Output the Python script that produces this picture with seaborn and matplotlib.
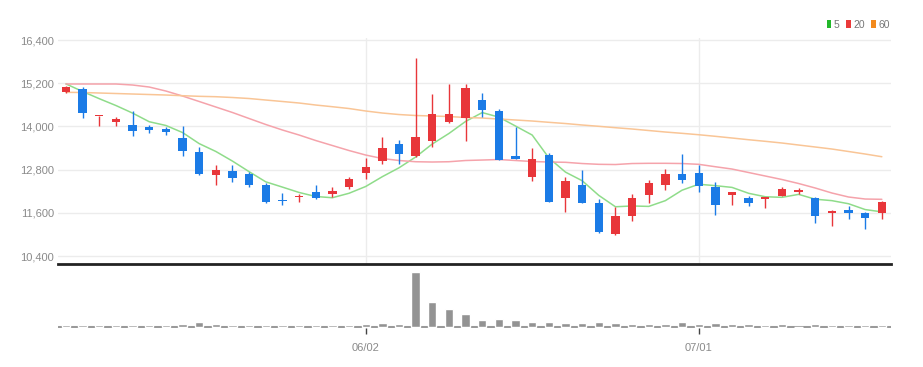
import numpy as np
import pandas as pd
import matplotlib
matplotlib.use("Agg")
import matplotlib.pyplot as plt
from matplotlib.patches import Patch
from matplotlib.ticker import FuncFormatter
import seaborn as sns

sns.set_theme(style="white")
plt.rcParams['font.family'] = ['Liberation Sans', 'DejaVu Sans']

dates = ["05/06", "05/09", "05/10", "05/11", "05/12", "05/13", "05/16", "05/17", "05/18", "05/19",
         "05/20", "05/23", "05/24", "05/25", "05/26", "05/27", "05/30", "05/31", "06/02", "06/03",
         "06/07", "06/08", "06/09", "06/10", "06/13", "06/14", "06/15", "06/16", "06/17", "06/20",
         "06/21", "06/22", "06/23", "06/24", "06/27", "06/28", "06/29", "06/30", "07/01", "07/04",
         "07/05", "07/06", "07/07", "07/08", "07/11", "07/12", "07/13", "07/14", "07/15", "07/18"]

open_ = [14950, 15040, 14280, 14130, 14040, 13980, 13940, 13690, 13300, 12640,
         12770, 12680, 12370, 11960, 12030, 12190, 12110, 12330, 12710, 13040,
         13510, 13180, 13590, 14130, 14230, 14730, 14440, 13180, 12590, 13200,
         12000, 12370, 11860, 11010, 11520, 12090, 12370, 12670, 12710, 12330,
         12090, 12020, 11975, 12080, 12190, 12020, 11590, 11680, 11600, 11590]
high = [15130, 15090, 14300, 14270, 14440, 14040, 13990, 14000, 13430, 12930,
        12930, 12720, 12420, 12160, 12120, 12370, 12330, 12600, 13110, 13700,
        13620, 15890, 14900, 15170, 15190, 14920, 14480, 13980, 13390, 13250,
        12590, 12790, 11980, 11770, 12120, 12510, 12810, 13230, 12930, 12460,
        12180, 12080, 12040, 12310, 12300, 12040, 11680, 11800, 11610, 11920]
low = [14930, 14220, 14000, 14000, 13740, 13830, 13760, 13180, 12640, 12370,
       12460, 12330, 11880, 11820, 11910, 11980, 12050, 12250, 12530, 12950,
       12960, 13160, 13440, 14090, 13590, 14250, 13060, 13090, 12490, 11900,
       11630, 11860, 11050, 10990, 11380, 11880, 12230, 12420, 12190, 11540,
       11820, 11790, 11720, 12070, 12110, 11310, 11230, 11420, 11140, 11420]
close = [15100, 14360, 14300, 14210, 13880, 13900, 13840, 13320, 12670, 12790,
         12560, 12370, 11910, 11940, 12045, 12000, 12200, 12530, 12880, 13410,
         13230, 13700, 14340, 14340, 15080, 14460, 13070, 13100, 13090, 11910,
         12480, 11880, 11060, 11510, 12020, 12420, 12680, 12510, 12340, 11820,
         12180, 11860, 12030, 12260, 12230, 11510, 11660, 11600, 11450, 11910]

ma5 = [15180, 14970, 14770, 14580, 14370, 14130, 14026, 13830, 13522, 13304,
       13036, 12742, 12460, 12314, 12165, 12053, 12019, 12143, 12331, 12604,
       12850, 13150, 13512, 13804, 14138, 14384, 14258, 14010, 13760, 13126,
       12730, 12492, 12084, 11768, 11790, 11778, 11938, 12228, 12394, 12354,
       12306, 12142, 12046, 12030, 12112, 11978, 11938, 11852, 11690, 11626]
ma20 = [15178, 15178, 15178, 15178, 15150, 15094, 14983, 14844, 14692, 14539,
        14386, 14219, 14053, 13900, 13761, 13608, 13469, 13330, 13205, 13108,
        13053, 13019, 13011, 13019, 13053, 13066, 13080, 13053, 13025, 13011,
        13003, 12969, 12947, 12941, 12969, 12975, 12975, 12969, 12947, 12880,
        12816, 12719, 12622, 12525, 12414, 12289, 12150, 12039, 11983, 11975]
ma60 = [14947, 14942, 14928, 14914, 14900, 14886, 14872, 14853, 14836, 14825,
        14803, 14775, 14733, 14692, 14650, 14594, 14547, 14497, 14428, 14372,
        14330, 14303, 14289, 14275, 14247, 14233, 14205, 14178, 14150, 14114,
        14080, 14039, 14003, 13964, 13928, 13886, 13844, 13808, 13769, 13725,
        13678, 13630, 13586, 13539, 13483, 13428, 13372, 13303, 13233, 13158]

volume = [120, 120, 120, 120, 120, 120, 120, 250, 450, 250,
          120, 120, 120, 120, 120, 120, 120, 120, 250, 320,
          250, 5450, 2480, 1750, 1250, 620, 750, 620, 420, 480,
          320, 320, 450, 320, 250, 220, 250, 450, 250, 320,
          250, 250, 150, 250, 0, 250, 150, 150, 150, 150]

ma_labels = ["5", "20", "60"]
ma_colors = ["#8fdc8a", "#f5a3ab", "#f9c596"]
legend_colors = ["#22b82a", "#ea3a3a", "#f28a1e"]
up_color = "#e8363a"
down_color = "#1b7be6"

idx = np.arange(len(dates))
df = pd.DataFrame({"i": idx, "open": open_, "high": high, "low": low, "close": close, "vol": volume})
ma_df = pd.DataFrame({"i": idx, "5": ma5, "20": ma20, "60": ma60}).melt(id_vars="i", var_name="MA", value_name="price")

fig = plt.figure(figsize=(9.23, 3.67), dpi=100)
ax = fig.add_axes([58 / 923, 1 - 264 / 367, 833 / 923, 226 / 367])
axv = fig.add_axes([58 / 923, 1 - 328 / 367, 833 / 923, 62 / 367])

# moving averages
sns.lineplot(data=ma_df, x="i", y="price", hue="MA", hue_order=ma_labels, palette=ma_colors,
             linewidth=1.1, ax=ax, legend=False, zorder=2)

# candles
up = df["close"] >= df["open"]
colors = np.where(up, up_color, down_color)
ax.vlines(df["i"], df["low"], df["high"], colors=colors, linewidth=1.0, zorder=3)
body_bottom = np.minimum(df["open"], df["close"])
body_h = np.maximum(np.abs(df["close"] - df["open"]), 25)
ax.bar(df["i"], body_h, bottom=body_bottom, width=0.5, color=colors, linewidth=0, zorder=4)

ticks_y = [10400, 11600, 12800, 14000, 15200, 16400]
ax.set_yticks(ticks_y)
ax.yaxis.set_major_formatter(FuncFormatter(lambda v, p: f"{int(v):,}"))
ax.set_ylim(10178, 16456)
ax.set_xlim(-0.48, 49.55)
date_ticks = [dates.index("06/02"), dates.index("07/01")]
ax.set_xticks(date_ticks)
ax.tick_params(axis="x", labelbottom=False, length=0)
ax.tick_params(axis="y", length=0, pad=3, labelsize=8, labelcolor="#8a8a8a")
ax.grid(True, axis="both", color="#ececec", linewidth=1.0, zorder=0)
ax.set_axisbelow(True)
for s in ["top", "right", "left"]:
    ax.spines[s].set_visible(False)
ax.spines["bottom"].set_color("#222222")
ax.spines["bottom"].set_linewidth(2.0)
ax.set_xlabel("")
ax.set_ylabel("")

# volume
sns.barplot(data=df, x="i", y="vol", native_scale=True, color="#939393", saturation=1,
            width=0.5, ax=axv, zorder=2)
axv.axhline(0, color="#9a9a9a", linewidth=2.2, zorder=1)
axv.set_xlim(-0.48, 49.55)
axv.set_ylim(-150, 6050)
axv.set_xticks(date_ticks)
axv.set_xticklabels([dates[t] for t in date_ticks])
axv.set_yticks([])
axv.tick_params(axis="x", length=4, width=1, color="#444444", pad=7, labelsize=8, labelcolor="#8a8a8a",
                bottom=True, direction="out")
for s in axv.spines.values():
    s.set_visible(False)
axv.set_xlabel("")
axv.set_ylabel("")

handles = [Patch(facecolor=c, edgecolor="none") for c in legend_colors]
fig.legend(handles, ma_labels, loc="center right", bbox_to_anchor=(890 / 923, 1 - 25 / 367), ncol=3,
           frameon=False, fontsize=7.5, labelcolor="#777777", handlelength=0.45, handleheight=0.8,
           handletextpad=0.25, columnspacing=0.6, borderpad=0, borderaxespad=0)

fig.savefig("out.png", dpi=100)
